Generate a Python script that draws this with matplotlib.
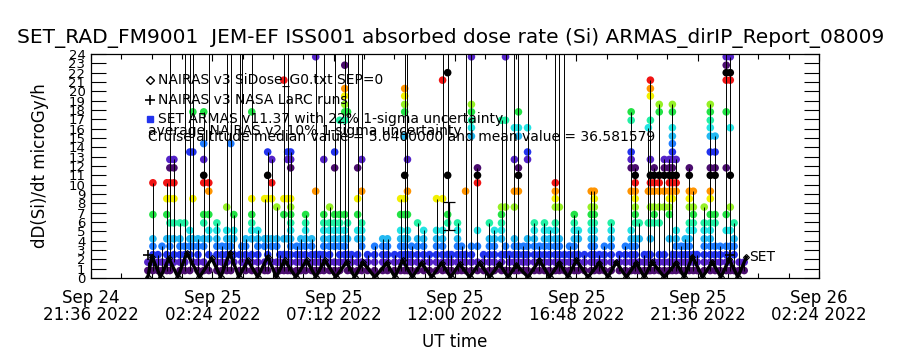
import matplotlib
matplotlib.use('Agg')
import matplotlib.pyplot as plt
from datetime import datetime, timedelta

start = datetime(2022, 9, 24, 21, 36)

# quantised dose steps of the ARMAS dots (microGy/h); index 29 is off scale
dose_levels = [0.0, 0.8, 1.7, 2.5, 3.4, 4.2, 5.1, 5.9, 6.8, 7.6, 8.5, 9.3, 10.2,
               11.0, 11.8, 12.7, 13.5, 14.4, 15.2, 16.1, 16.9, 17.8, 18.6, 19.5,
               20.3, 21.2, 22.0, 22.8, 23.7, 31.0]

# hours after Sep 24 21:36 for each burst of ARMAS samples
armas_hours = [2.25, 2.45, 2.65, 2.81, 3.00, 3.12, 3.28, 3.52, 3.71, 3.91, 4.03,
               4.23, 4.46, 4.66, 4.98, 5.18, 5.37, 5.53, 5.65, 5.89, 5.97, 6.12,
               6.36, 6.60, 6.87, 6.99, 7.15, 7.35, 7.47, 7.63, 7.78, 7.90, 8.14,
               8.30, 8.49, 8.73, 8.89, 9.05, 9.21, 9.44, 9.64, 9.84, 10.04, 10.15,
               10.31, 10.55, 10.71, 10.94, 11.22, 11.54, 11.73, 12.01, 12.25,
               12.41, 12.52, 12.68, 12.92, 13.16, 13.39, 13.67, 13.91, 14.11,
               14.26, 14.50, 14.66, 14.82, 15.05, 15.29, 15.53, 15.76, 15.96,
               16.24, 16.40, 16.55, 16.75, 16.91, 17.11, 17.27, 17.54, 17.74,
               17.94, 18.14, 18.37, 18.53, 18.73, 18.93, 19.12, 19.28, 19.52,
               19.79, 19.91, 20.11, 20.31, 20.58, 20.90, 21.14, 21.37, 21.53,
               21.69, 21.89, 22.05, 22.13, 22.28, 22.48, 22.68, 22.88, 23.00,
               23.15, 23.35, 23.51, 23.67, 23.83, 23.98, 24.26, 24.50, 24.69,
               24.89, 25.13, 25.29, 25.44, 25.64, 25.84]

# dose steps (indices into dose_levels) hit in each burst
armas_steps = [
    [1, 2], [1, 2, 3, 4, 5, 8, 12], [1, 2, 3], [1, 2, 4], [1, 2, 3, 5, 8, 10, 12],
    [1, 2, 4, 5, 7, 10, 12, 14, 15, 29], [2, 3, 5, 7, 10, 12, 14, 15],
    [1, 2, 3, 4, 5, 7], [1, 2, 3, 4, 7, 29], [1, 3, 4, 5, 6, 16, 29],
    [2, 4, 5, 10, 16, 21, 29], [1, 2, 3, 4, 5],
    [1, 2, 4, 5, 7, 8, 12, 13, 15, 17, 21], [1, 3, 5, 6, 8, 11, 12, 29],
    [1, 2, 3, 4, 5, 6, 7], [1, 2, 3, 4], [1, 2, 3, 4, 5, 6, 9, 29],
    [1, 3, 4, 5, 17, 29], [2, 3, 5, 6, 8], [1, 3, 29], [2, 4, 29],
    [1, 2, 3, 4, 5], [1, 2, 3, 5, 6, 7, 8, 10, 21, 29], [1, 2, 3, 4, 5, 6],
    [1, 2, 4, 5, 10], [1, 3, 5, 10, 13, 16], [2, 4, 5, 10, 12, 15],
    [1, 2, 4, 5, 9], [1, 2, 3], [1, 2, 3, 5, 8, 10, 25, 29],
    [1, 3, 5, 10, 15, 16, 29], [1, 2, 3, 4, 5, 6, 7, 8, 9, 10, 14, 15, 16],
    [1, 2, 3, 4], [1, 2, 3, 4, 5], [1, 2, 3, 4, 5, 6, 7, 8], [1, 2, 3, 4, 5],
    [1, 2, 3, 11, 28, 29], [1, 2, 3], [1, 2, 3, 4, 5, 6, 7, 8, 15, 29],
    [1, 2, 3, 4, 5, 6, 7, 9], [1, 2, 4, 5, 6, 7, 8, 14, 16, 29],
    [1, 2, 3, 4, 5, 6, 7, 8, 20], [2, 3, 4, 5, 6, 8, 20, 21, 22, 23, 24, 27, 29],
    [1, 3, 5, 7, 21, 29], [1, 2, 3], [1, 2, 3, 5, 6, 8, 10, 14, 29],
    [1, 2, 4, 5, 6, 7, 11, 15, 29], [1, 2, 3], [1, 2, 3, 4], [1, 2, 3, 4, 5],
    [1, 2, 3, 4, 5], [1, 2, 3], [1, 2, 3, 4, 5, 6, 8, 10],
    [1, 2, 3, 4, 5, 8, 10, 13, 18, 21, 22, 23, 24, 29],
    [1, 2, 3, 5, 6, 8, 11, 15, 29], [1, 2, 3, 4], [1, 2, 3, 4, 5, 7],
    [1, 2, 3, 4, 5, 6], [1, 2, 3], [1, 2, 3, 4, 5, 6, 10],
    [1, 2, 3, 4, 5, 6, 10, 25, 29], [1, 2, 3, 7, 8, 13, 26, 29], [1, 2, 3],
    [1, 2, 3, 4, 5, 6, 7], [1, 2, 3, 4], [1, 2, 3, 11, 29],
    [1, 2, 3, 4, 18, 19, 20, 21, 22, 28, 29], [1, 2, 4, 6, 12, 13, 14],
    [1, 2, 3], [1, 2, 3, 4, 5, 7], [1, 2, 3, 4, 5, 6],
    [1, 2, 3, 5, 6, 7, 8, 9, 20], [1, 3, 4, 9, 20, 28, 29], [1, 2, 3],
    [1, 2, 3, 4, 5, 9, 11, 15, 19, 29], [1, 2, 3, 4, 11, 13, 14, 18, 19, 21, 29],
    [1, 2, 3, 4], [1, 2, 3, 4, 5, 15, 16, 19, 29], [1, 2, 3, 4, 5, 6, 7],
    [1, 2, 3, 4], [1, 2, 3, 4, 5, 6, 7], [1, 2, 3, 4, 5, 6],
    [1, 2, 3, 4, 5, 6, 7, 9, 10, 11, 12, 29], [1, 2, 3, 4, 5, 9, 29],
    [1, 2, 3, 29], [1, 2, 3, 4], [1, 2, 3, 4, 5, 6, 7, 8], [1, 2, 3, 5, 6],
    [1, 2, 3], [1, 2, 3, 4, 5, 6, 7, 8, 9, 11], [1, 2, 3, 4, 5, 6, 7, 8, 9, 10, 11],
    [1, 2, 3], [1, 2, 3, 4], [1, 2, 3, 4, 5, 6, 7], [1, 2, 3], [1, 2, 3, 4],
    [1, 2, 3, 4, 5, 6, 11, 14, 15, 16, 20, 21],
    [1, 2, 3, 4, 5, 7, 8, 9, 10, 11, 12, 13, 14], [1, 2, 5, 7], [1, 2, 3],
    [1, 2, 3, 7, 11, 19], [1, 2, 3, 5, 7, 9, 11, 12, 13, 15, 20, 23, 24, 25],
    [1, 2, 7, 8, 9, 11, 12, 13, 14], [1, 2, 3, 7, 9, 11, 12, 13, 21, 22],
    [1, 2, 3, 9, 11, 13, 14, 15], [1, 2, 5, 8, 9, 10, 11, 12, 13, 14, 15],
    [1, 2, 3, 10, 11, 12, 13, 14, 15, 16, 17, 18, 19, 21, 22],
    [1, 2, 3, 4, 5, 6, 11, 12, 13, 15], [1, 2, 3, 4], [1, 2, 3, 4, 5],
    [1, 2, 3, 4, 5, 6, 7, 9, 10, 11, 13, 14], [1, 2, 3, 6, 7, 8, 9, 11],
    [1, 2, 3], [1, 2, 3, 4, 5, 6, 7, 9],
    [1, 2, 3, 4, 5, 6, 7, 8, 10, 11, 13, 14, 16, 18, 19, 20, 21, 22],
    [1, 2, 3, 4, 7, 8, 13, 14, 16, 18], [1, 2, 3, 4],
    [1, 2, 3, 4, 6, 8, 14, 21, 25, 26, 27, 28, 29],
    [1, 2, 4, 6, 9, 13, 19, 25, 26, 28], [1, 3, 4, 5, 7], [1, 2, 29], [1, 2],
]

# NAIRAS v3 model (SiDose_G0, SEP=0): orbit-modulated curve
nairas_hours = [2.25, 2.41, 2.75, 3.08, 3.44, 3.79, 4.29, 4.78, 5.13, 5.49, 5.85,
                6.20, 6.60, 6.99, 7.33, 7.66, 8.10, 8.53, 8.89, 9.25, 9.68, 10.11,
                10.43, 10.75, 11.23, 11.70, 12.02, 12.33, 12.71, 13.08, 13.48,
                13.87, 14.23, 14.58, 14.98, 15.37, 15.77, 16.16, 16.50, 16.83,
                17.29, 17.74, 18.14, 18.53, 18.87, 19.20, 19.66, 20.11, 20.45,
                20.78, 21.18, 21.57, 21.89, 22.20, 22.68, 23.15, 23.47, 23.79,
                24.19, 24.58, 24.92, 25.25, 25.59, 25.92]
nairas_dose = [0.1, 2.3, 0.1, 2.1, 0.1, 2.7, 0.1, 2.1, 0.1, 2.7, 0.1, 1.9, 0.1, 2.3,
               0.1, 1.9, 0.1, 1.9, 0.1, 1.9, 0.1, 1.7, 0.1, 1.7, 0.1, 1.6, 0.1, 1.9,
               0.1, 1.6, 0.1, 1.6, 0.1, 1.5, 0.1, 1.6, 0.1, 1.5, 0.1, 1.4, 0.1, 1.9,
               0.1, 1.6, 0.1, 1.9, 0.1, 1.6, 0.1, 1.7, 0.1, 1.6, 0.1, 1.7, 0.1, 1.6,
               0.1, 2.3, 0.1, 1.7, 0.1, 2.0, 0.1, 2.2]

# NASA LaRC runs
larc_hours = [2.25, 25.29]
larc_dose = [2.5, 2.5]

# example 10% uncertainty bar
err_hour, err_dose, err_size = 14.18, 6.6, 1.5

# colour table used for the dots, cycles every 13 steps
step_colors = ['#000000', '#4a0c6e', '#5423c8', '#2233ee', '#1f7cff', '#23b8f2',
               '#23e3e3', '#22f0a4', '#22e244', '#95f024', '#f2f000', '#ff9400',
               '#f01414']

tick_hours = [0, 4.8, 9.6, 14.4, 19.2, 24.0, 28.8]
tick_labels = [(start + timedelta(hours=h)).strftime('%b %d\n%H:%M %Y')
               for h in tick_hours]

plt.rcParams['font.family'] = ['DejaVu Sans']

fig = plt.figure(figsize=(9, 3.5), dpi=100)
ax = fig.add_axes([0.1011, 0.2057, 0.8089, 0.64])

for t, steps in zip(armas_hours, armas_steps):
    vals = [dose_levels[k] for k in steps]
    cols = [step_colors[k % 13] for k in steps]
    ax.scatter([t] * len(vals), vals, c=cols, s=30, marker='o', linewidths=0,
               zorder=2)
    ax.vlines(t, min(vals), max(vals), color='k', lw=0.7, zorder=3)

ax.plot(nairas_hours, nairas_dose, color='k', lw=2.4, zorder=4)
ax.plot(nairas_hours, nairas_dose, ls='none', marker='D', ms=3, mfc='none',
        mec='k', mew=0.8, zorder=5)
ax.plot(larc_hours, larc_dose, ls='none', marker='+', ms=7, mew=1.2, color='k',
        zorder=5)
ax.errorbar([err_hour], [err_dose], yerr=[err_size], color='k', lw=0.9,
            capsize=4, capthick=0.9, zorder=5)
ax.text(26.05, 2.25, 'SET', fontsize=10, va='center', ha='left')

ax.set_xlim(0, 28.8)
ax.set_ylim(0, 24)
ax.set_xticks(tick_hours)
ax.set_xticklabels(tick_labels, fontsize=12, linespacing=0.95)
ax.set_xticks([h * 1.2 for h in range(25)], minor=True)
ax.set_yticks(range(25))
ax.set_yticklabels([str(v) for v in range(25)], fontsize=9.5)
ax.tick_params(axis='x', which='major', direction='in', length=5, width=0.8,
               top=True, pad=8)
ax.tick_params(axis='x', which='minor', direction='in', length=3.5, width=0.8,
               top=True)
ax.tick_params(axis='y', direction='in', length=10.5, width=0.8, right=True,
               pad=4)
for sp in ax.spines.values():
    sp.set_linewidth(0.9)

# legend lines written straight on the plot
tr = ax.transAxes
ax.plot([0.081], [0.884], transform=tr, ls='none', marker='D', ms=4, mfc='white',
        mec='k', mew=1, clip_on=False)
ax.plot([0.081], [0.795], transform=tr, ls='none', marker='+', ms=7, mew=1.2,
        color='k', clip_on=False)
ax.plot([0.081], [0.710], transform=tr, ls='none', marker='s', ms=4,
        color='#2233ee', clip_on=False)
ax.text(0.092, 0.884, 'NAIRAS v3 SiDose_G0.txt SEP=0', transform=tr,
        fontsize=10, va='center')
ax.text(0.092, 0.795, 'NAIRAS v3 NASA LaRC runs', transform=tr, fontsize=10,
        va='center')
ax.text(0.092, 0.710, 'SET ARMAS v11.37 with 22% 1-sigma uncertainty',
        transform=tr, fontsize=10, va='center')
ax.text(0.078, 0.656, 'average NAIRAS v2 10% 1-sigma uncertainty',
        transform=tr, fontsize=10, va='center')
ax.text(0.078, 0.629,
        'Cruise altitude median value = 5.0400000 and mean value = 36.581579',
        transform=tr, fontsize=10, va='center')

fig.text(0.501, 0.891,
         'SET_RAD_FM9001  JEM-EF ISS001 absorbed dose rate (Si) ARMAS_dirIP_Report_08009',
         ha='center', va='center', fontsize=14.5)
ax.set_xlabel('UT time', fontsize=12, labelpad=6)
ax.set_ylabel('dD(Si)/dt microGy/h', fontsize=12, labelpad=14)

fig.savefig('out.png', dpi=100)
